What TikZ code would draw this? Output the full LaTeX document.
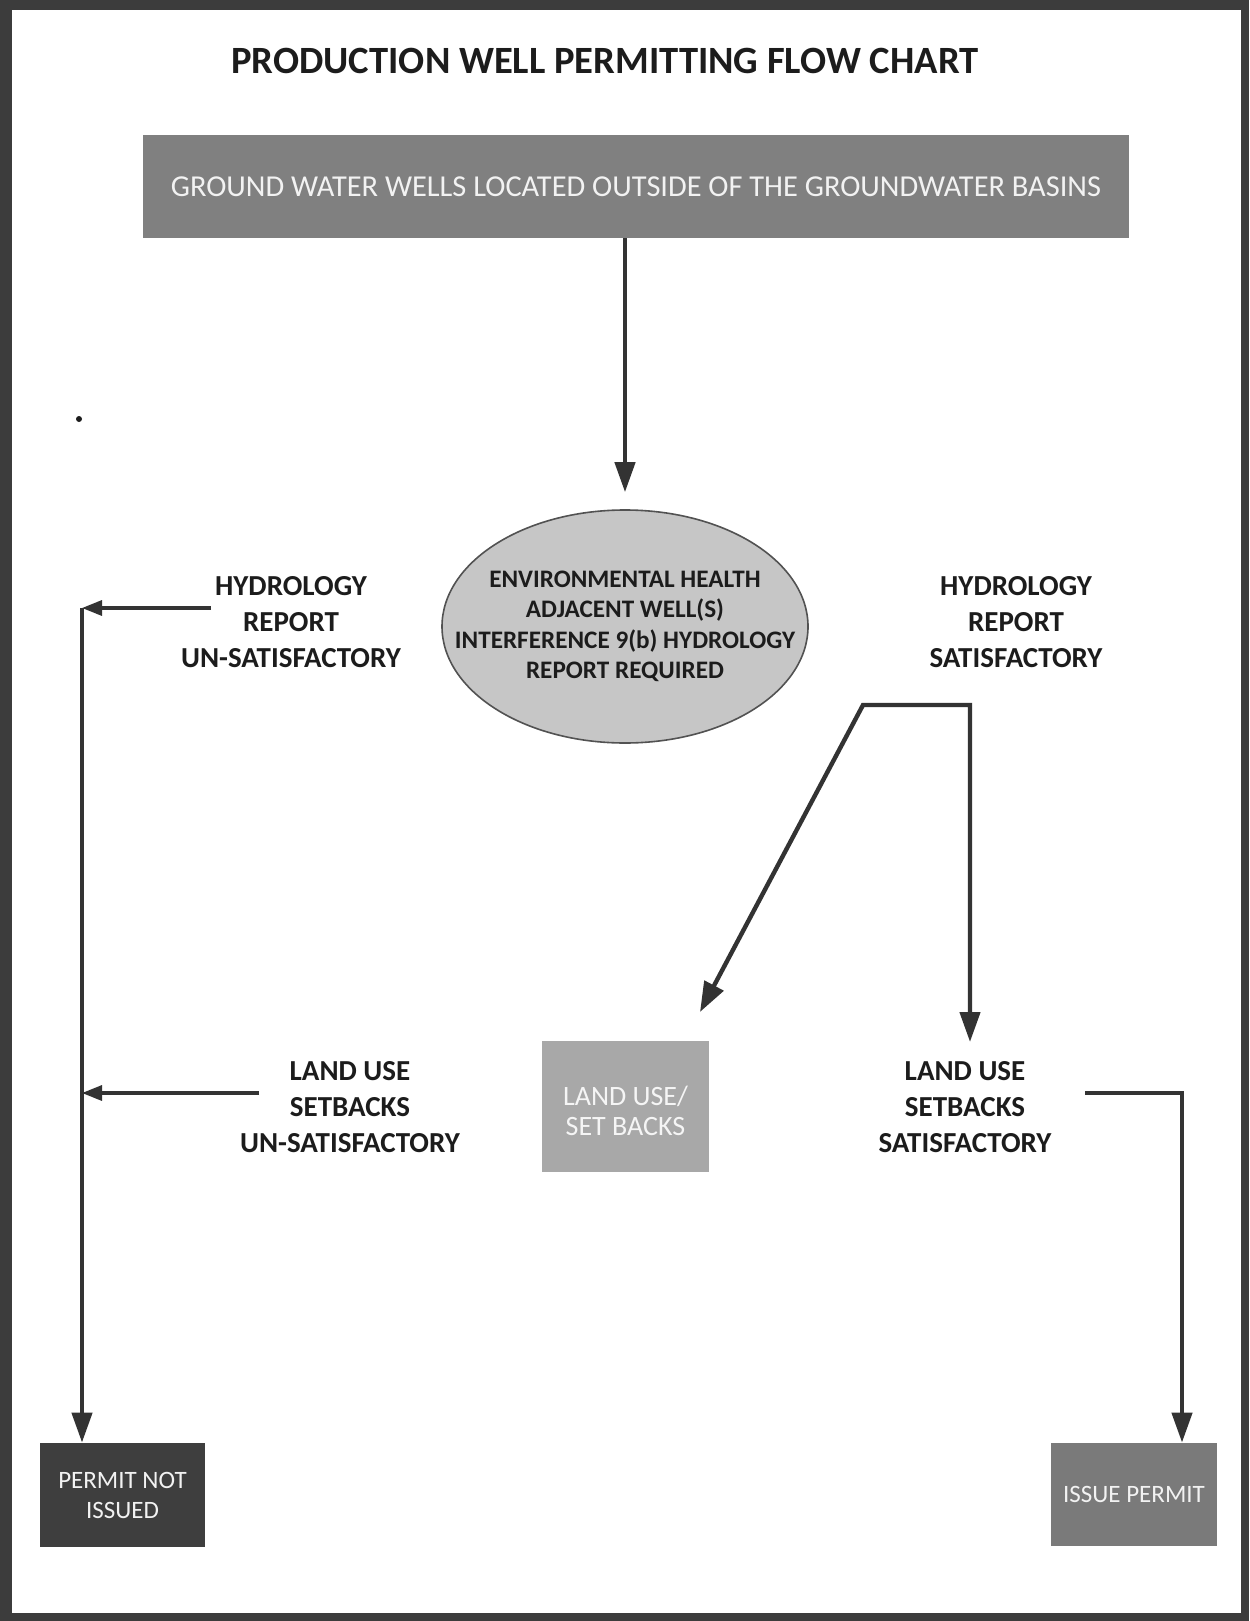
\documentclass[tikz,border=0pt]{standalone}
\usepackage{fontspec}
\setmainfont{Carlito}
\usetikzlibrary{shapes.geometric,arrows.meta,calc}
\definecolor{frame}{HTML}{3C3C3C}
\definecolor{headbox}{HTML}{808080}
\definecolor{ovalfill}{HTML}{C6C6C6}
\definecolor{landbox}{HTML}{A8A8A8}
\definecolor{denybox}{HTML}{3E3E3E}
\definecolor{issuebox}{HTML}{7A7A7A}
\definecolor{ink}{HTML}{1C1C1C}
\definecolor{wire}{HTML}{333333}
\begin{document}
\begin{tikzpicture}[x=0.5pt,y=-0.5pt,
  caption/.style={align=center, text=ink, font=\fontsize{14.5}{18.2}\selectfont\bfseries, inner sep=0pt},
  box/.style={rectangle, inner sep=0pt, align=center},
  wire/.style={draw=wire, line width=2.2pt, line join=miter},
  flow/.style={wire, -{Triangle[length=15pt,width=10pt]}},
  flowboth/.style={wire, {Triangle[length=15pt,width=10.5pt]}-{Triangle[length=15pt,width=10pt]}},
  side/.style={draw=wire, line width=1.6pt, -{Triangle[length=10pt,width=7.5pt]}},
]
% page frame
\fill[frame] (0,0) rectangle (1249,1621);
\fill[white] (12,10) rectangle (1241,1613);
\useasboundingbox (0,0) rectangle (1249,1621);

% title
\node[font=\fontsize{19.3}{23}\selectfont\bfseries, text=ink, inner sep=0pt] (title) at (605,61)
  {PRODUCTION WELL PERMITTING FLOW CHART};

% starting condition
\node[box, fill=headbox, minimum width=493pt, minimum height=51.5pt,
      text=white!90!gray, font=\fontsize{15.2}{18}\selectfont] (src) at (636,186.5)
  {GROUND WATER WELLS LOCATED OUTSIDE OF THE GROUNDWATER BASINS};

% central review step
\node[ellipse, draw=wire!85, line width=0.8pt, fill=ovalfill,
      minimum width=183pt, minimum height=116.5pt, inner sep=0pt] (eh) at (625,626.5) {};
\node[align=center, inner sep=0pt, text=ink, font=\fontsize{12.6}{15.25}\selectfont\bfseries] (ehtext) at (eh.center)
  {ENVIRONMENTAL HEALTH\\ADJACENT WELL(S)\\INTERFERENCE 9(b) HYDROLOGY\\REPORT REQUIRED};

% outcome captions
\node[caption] (hydL) at (291,622) {HYDROLOGY\\REPORT\\UN-SATISFACTORY};
\node[caption] (hydR) at (1016,622) {HYDROLOGY\\REPORT\\SATISFACTORY};
\node[caption] (luL) at (350,1107) {LAND USE\\SETBACKS\\UN-SATISFACTORY};
\node[caption] (luR) at (965,1107) {LAND USE\\SETBACKS\\SATISFACTORY};

% land use review
\node[box, fill=landbox, minimum width=83.5pt, minimum height=65.5pt] (lubox) at (625.5,1106.5) {};
\node[align=center, inner sep=0pt, text=white!92!gray, font=\fontsize{14}{14.8}\selectfont] (lutext) at (625.5,1111)
  {LAND USE/\\SET BACKS};

% final results
\node[box, fill=denybox, minimum width=82.5pt, minimum height=52pt,
      text=white!90!gray, font=\fontsize{12.5}{15}\selectfont] (deny) at (122.5,1495)
  {PERMIT NOT\\ISSUED};
\node[box, fill=issuebox, minimum width=83pt, minimum height=51.5pt,
      text=white!90!gray, font=\fontsize{12.5}{15}\selectfont] (issue) at (1134,1494.5)
  {ISSUE PERMIT};

% connector anchors
\coordinate (railH) at (82,608);
\coordinate (railL) at (82,1093);
\coordinate (hydLstub) at (211,608);
\coordinate (luLstub) at (259,1093);
\coordinate (fork) at (863,705);
\coordinate (forkR) at (970,705);
\coordinate (diagTip) at (700,1012);
\coordinate (rightTip) at (970,1042);
\coordinate (luRstub) at (1085,1093);
\coordinate (issueDrop) at (1182,1093);

% connectors
\draw[flow] (src.south -| eh.north) -- ([yshift=8.5pt]eh.north);
\draw[side] (hydLstub) -- (railH);
\draw[side] (luLstub) -- (railL);
\draw[flow] (railH) -- (deny.north -| railH);
\draw[flowboth] (diagTip) -- (fork) -- (forkR) -- (rightTip);
\draw[flow] (luRstub) -- (issueDrop) -- (issue.north -| issueDrop);

% stray bullet
\fill[ink] (79,419) circle (1.5pt);
\end{tikzpicture}
\end{document}
